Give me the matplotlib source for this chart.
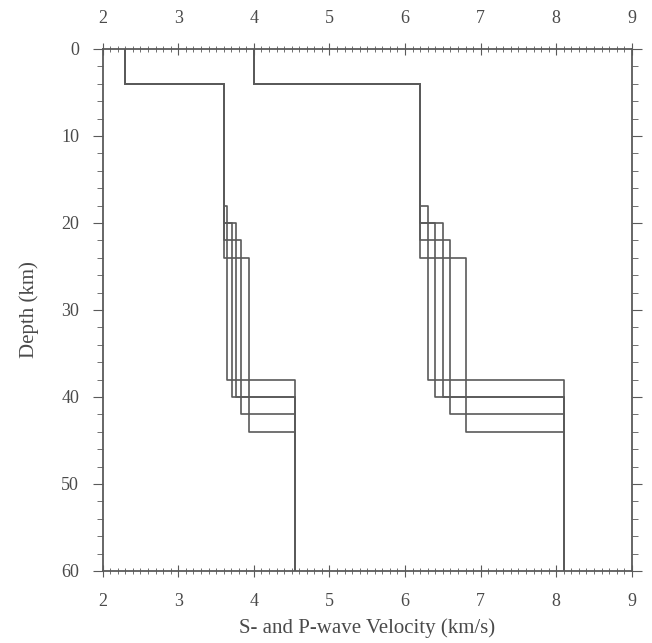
import matplotlib
matplotlib.use("Agg")
import matplotlib.pyplot as plt
from matplotlib.ticker import MultipleLocator

# layered crustal models: top layer, upper crust, lower crust, mantle
surface_depth = 4.0
lower_crust_top = [18, 20, 20, 22, 24]
moho_depth = [38, 40, 40, 42, 44]
max_depth = 60.0

vs_surface = 2.3
vs_upper = 3.6
vs_lower = [3.65, 3.71, 3.77, 3.83, 3.94]
vs_mantle = 4.55

vp_surface = 4.0
vp_upper = 6.2
vp_lower = [6.3, 6.4, 6.5, 6.6, 6.8]
vp_mantle = 8.1

LINE = "#5a5a5a"
TEXT = "#4a4a4a"


def step_profile(tops, vels, bottom):
    """Turn layer tops + velocities into a staircase (v, z) path."""
    v, z = [], []
    edges = list(tops) + [bottom]
    for i, vel in enumerate(vels):
        v += [vel, vel]
        z += [edges[i], edges[i + 1]]
    return v, z


plt.rcParams["font.family"] = ["Liberation Serif", "DejaVu Serif"]

fig = plt.figure(figsize=(6.52, 6.43), dpi=100)
ax = fig.add_axes([0.1575, 0.112, 0.8115, 0.8118])

for d1, d2, vs2, vp2 in zip(lower_crust_top, moho_depth, vs_lower, vp_lower):
    tops = [0.0, surface_depth, d1, d2]
    v, z = step_profile(tops, [vs_surface, vs_upper, vs2, vs_mantle], max_depth)
    ax.plot(v, z, color=LINE, lw=1.2)
    v, z = step_profile(tops, [vp_surface, vp_upper, vp2, vp_mantle], max_depth)
    ax.plot(v, z, color=LINE, lw=1.2)

ax.set_xlim(2, 9)
ax.set_ylim(60, 0)

ax.xaxis.set_major_locator(MultipleLocator(1))
ax.xaxis.set_minor_locator(MultipleLocator(0.1))
ax.yaxis.set_major_locator(MultipleLocator(10))
ax.yaxis.set_minor_locator(MultipleLocator(2))

ax.tick_params(axis="x", which="both", top=True, bottom=True,
               labeltop=True, labelbottom=True, direction="inout",
               colors=LINE, labelcolor=TEXT, labelsize=13)
ax.tick_params(axis="x", which="major", length=8, pad=12)
ax.tick_params(axis="x", which="minor", length=4)
ax.tick_params(axis="y", which="both", left=True, right=True,
               labelleft=True, labelright=False, direction="out",
               colors=LINE, labelcolor=TEXT, labelsize=13)
ax.tick_params(axis="y", which="major", length=7, pad=10)
ax.tick_params(axis="y", which="minor", length=4)

for s in ax.spines.values():
    s.set_color(LINE)
    s.set_linewidth(1.3)

ax.set_xlabel("S- and P-wave Velocity (km/s)", fontsize=15, color=TEXT, labelpad=6)
ax.set_ylabel("Depth (km)", fontsize=15, color=TEXT, labelpad=16)

fig.savefig("out.png", dpi=100, facecolor="white")
